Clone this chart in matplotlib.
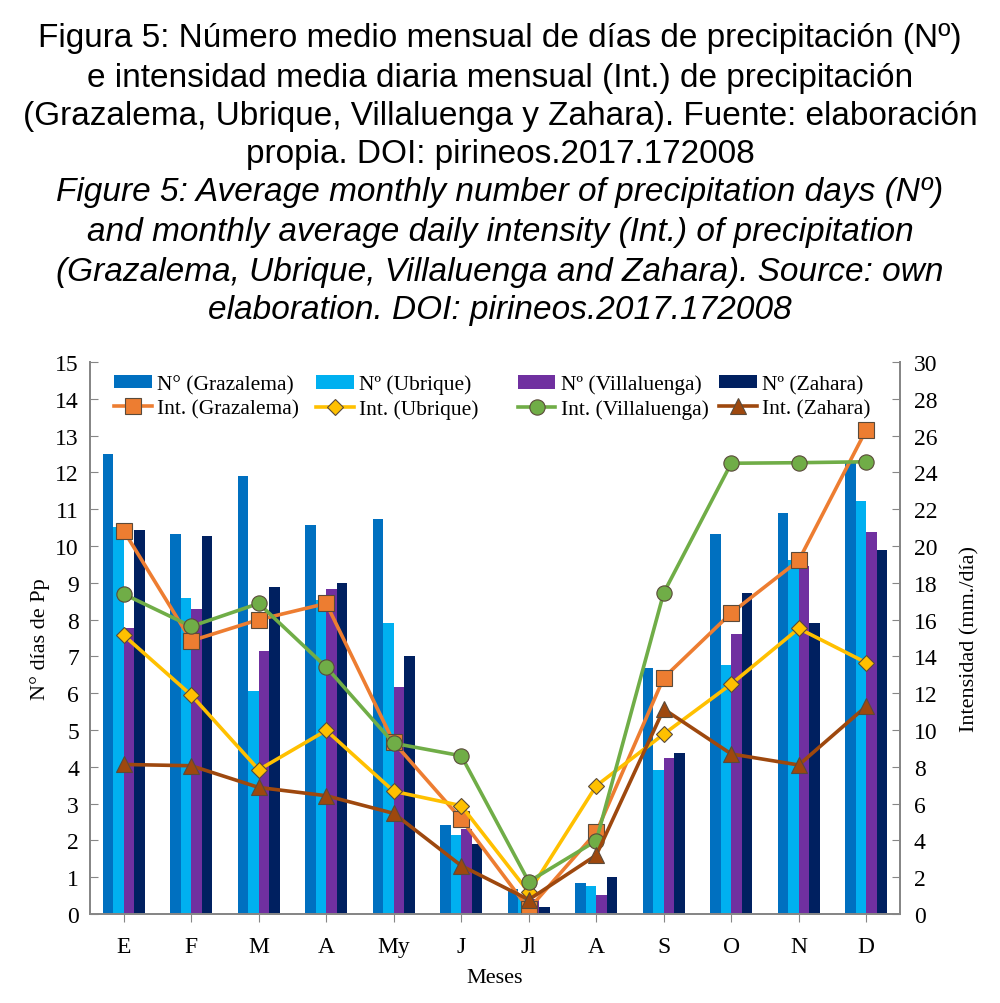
import matplotlib.pyplot as plt
import numpy as np

# month labels
months = ["E", "F", "M", "A", "My", "J", "Jl", "A", "S", "O", "N", "D"]

# Nº days of precipitation (left axis)
dias_grazalema = [12.5, 10.33, 11.9, 10.57, 10.74, 2.42, 0.68, 0.84, 6.68, 10.33, 10.9, 12.32]
dias_ubrique = [10.52, 8.6, 6.07, 8.53, 7.92, 2.16, 0.5, 0.77, 3.92, 6.77, 9.61, 11.23]
dias_villaluenga = [7.76, 8.3, 7.15, 8.84, 6.16, 2.31, 0.4, 0.53, 4.23, 7.6, 9.46, 10.37]
dias_zahara = [10.44, 10.26, 8.9, 9.0, 7.0, 1.9, 0.18, 1.0, 4.37, 8.72, 7.9, 9.9]

# daily intensity mm/day (right axis)
int_grazalema = [20.83, 14.85, 16.0, 16.88, 9.33, 5.16, 0.27, 4.44, 12.84, 16.36, 19.22, 26.32]
int_ubrique = [15.15, 11.9, 7.84, 9.98, 6.67, 5.89, 1.18, 6.97, 9.78, 12.5, 15.52, 13.66]
int_villaluenga = [17.39, 15.63, 16.88, 13.42, 9.28, 8.6, 1.76, 3.98, 17.46, 24.5, 24.53, 24.58]
int_zahara = [8.13, 8.06, 6.88, 6.43, 5.47, 2.63, 0.78, 3.2, 11.14, 8.7, 8.1, 11.29]

serif = "Liberation Serif"
sans = "Liberation Sans"

fig = plt.figure(figsize=(10, 10.04), dpi=100)
ax = fig.add_axes([0.09, 0.0886, 0.81, 0.5498])
ax2 = ax.twinx()

x = np.arange(len(months))
w = 0.155
bar_colors = ["#0070C0", "#00B0F0", "#7030A0", "#002060"]
bar_data = [dias_grazalema, dias_ubrique, dias_villaluenga, dias_zahara]
bar_names = ["N° (Grazalema)", "Nº (Ubrique)", "Nº (Villaluenga)", "Nº (Zahara)"]
bars = []
for i in range(4):
    b = ax.bar(x + (i - 1.5) * w, bar_data[i], width=w, color=bar_colors[i], label=bar_names[i])
    bars.append(b)

line_colors = ["#ED7D31", "#FFC000", "#70AD47", "#9E480E"]
line_data = [int_grazalema, int_ubrique, int_villaluenga, int_zahara]
line_names = ["Int. (Grazalema)", "Int. (Ubrique)", "Int. (Villaluenga)", "Int. (Zahara)"]
markers = ["s", "D", "o", "^"]
msizes = [11, 8.5, 11, 11]
lines = []
for i in range(4):
    l, = ax2.plot(x, line_data[i], color=line_colors[i], linewidth=2.6, marker=markers[i],
                  markersize=msizes[i], markerfacecolor=line_colors[i],
                  markeredgecolor="#5a4a3a", markeredgewidth=0.8, label=line_names[i])
    lines.append(l)

ax.set_xlim(-0.5, 11.5)
ax.set_ylim(0, 15)
ax2.set_ylim(0, 30)
ax.set_yticks(range(0, 16))
ax2.set_yticks(range(0, 31, 2))
ax.set_xticks(x)
ax.set_xticklabels(months)

for a in (ax, ax2):
    a.spines["top"].set_visible(False)
    for s in ("left", "right", "bottom"):
        a.spines[s].set_color("#868686")
        a.spines[s].set_linewidth(1.3)
ax.tick_params(axis="y", direction="in", length=6, color="#868686", labelsize=17, pad=8)
ax2.tick_params(axis="y", direction="in", length=6, color="#868686", labelsize=17, pad=10)
ax.tick_params(axis="x", direction="out", length=6, color="#868686", labelsize=17, pad=10)
for lab in ax.get_xticklabels() + ax.get_yticklabels() + ax2.get_yticklabels():
    lab.set_fontfamily(serif)

ax.set_ylabel("N° días de Pp", fontsize=16, family=serif, labelpad=4)
ax2.set_ylabel("Intensidad (mm./día)", fontsize=16, family=serif, labelpad=16)
ax.set_xlabel("Meses", fontsize=16, family=serif, labelpad=8)

# legend: one small legend per column so columns are evenly spaced
col_x = [0.030, 0.279, 0.528, 0.777]
for i in range(4):
    leg = ax2.legend(handles=[bars[i], lines[i]], loc="upper left", bbox_to_anchor=(col_x[i], 0.977),
                     frameon=False, prop={"family": serif, "size": 15.5}, handlelength=1.75,
                     handletextpad=0.25, labelspacing=0.22, borderaxespad=0, borderpad=0,
                     handleheight=0.6)
    if i < 3:
        ax2.add_artist(leg)

# title lines
title_es = ["Figura 5: Número medio mensual de días de precipitación (Nº)",
            "e intensidad media diaria mensual (Int.) de precipitación",
            "(Grazalema, Ubrique, Villaluenga y Zahara). Fuente: elaboración",
            "propia. DOI: pirineos.2017.172008"]
title_en = ["Figure 5: Average monthly number of precipitation days (Nº)",
            "and monthly average daily intensity (Int.) of precipitation",
            "(Grazalema, Ubrique, Villaluenga and Zahara). Source: own",
            "elaboration. DOI: pirineos.2017.172008"]
ys = [38, 78, 117, 155, 193, 233, 272, 311]
for k, t in enumerate(title_es + title_en):
    fig.text(0.5, 1 - ys[k] / 1004, t, ha="center", va="center", fontsize=24, family=sans,
             style="normal" if k < 4 else "italic")

fig.savefig("out.png", dpi=100)
